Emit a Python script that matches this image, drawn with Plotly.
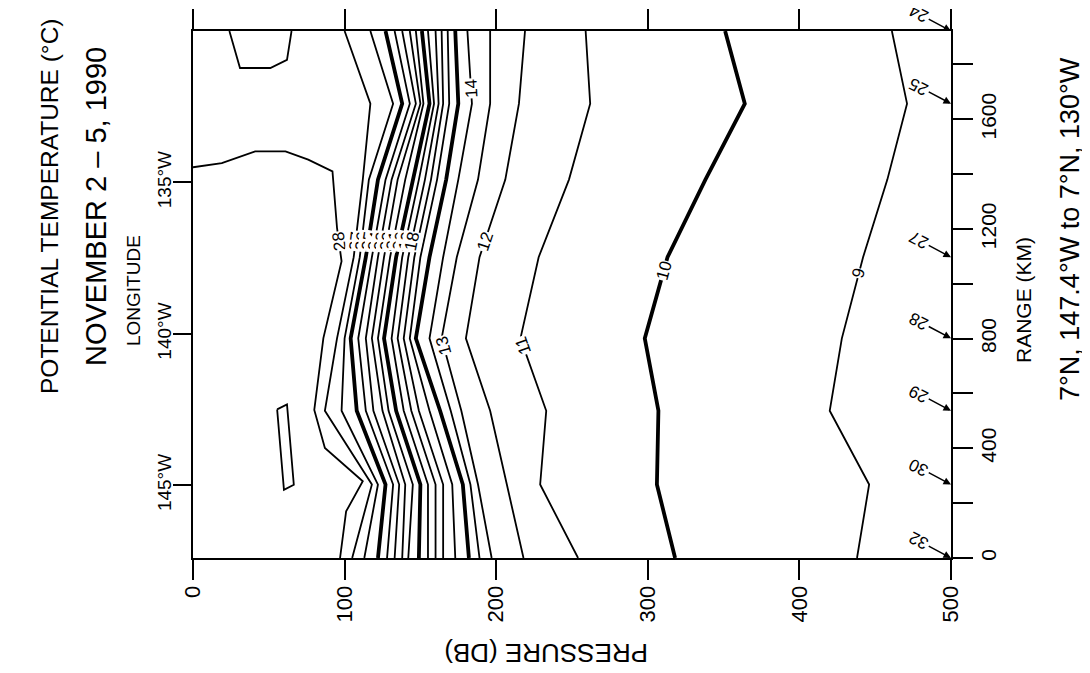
import math
import plotly.graph_objects as go

# ---------------- data ----------------
# range (km) of the columns at which isotherm pressures were read
STATION_KM = [0, 268, 537, 801, 1097, 1380, 1657, 1922]

# pressure (dB) of each isotherm at those columns
P27 = [105, 118, 87, 95, 106, 112, 117, 100]
P26 = [113, 122, 98, 100, 110, 116, 132, 117]
P25 = [122, 127, 108, 104, 114, 122, 138, 127]
P24 = [128, 132, 114, 109, 118, 127, 143, 133]
P23 = [133, 136, 119, 114, 122, 131, 147, 138]
P22 = [138, 140, 125, 118, 126, 135, 150, 143]
P21 = [142, 145, 129, 122, 130, 140, 152, 147]
P20 = [149, 150, 134, 126, 134, 145, 156, 151]
P19 = [155, 155, 139, 131, 138, 149, 159, 155]
P18 = [160, 160, 144, 135, 142, 153, 162, 160]
P17 = [165, 165, 149, 139, 146, 157, 165, 164]
P16 = [173, 171, 156, 143, 150, 161, 169, 168]
P15 = [182, 178, 163, 147, 156, 167, 175, 173]
P14 = [189, 183, 170, 156, 165, 175, 184, 181]
P13 = [197, 188, 177, 164, 174, 188, 196, 196]
P12 = [218, 207, 196, 180, 189, 206, 215, 219]
P11 = [254, 229, 233, 216, 228, 248, 262, 259]
P10 = [318, 306, 307, 298, 313, 338, 364, 351]
P9 = [438, 446, 420, 428, 442, 458, 471, 461]

# the 28 degC isotherm (base of the mixed layer, reaching the surface near 1425 km)
ISO28_P = [97, 101, 112, 87, 80, 86, 98, 95, 92, 76, 61, 41, 19, 0]
ISO28_KM = [0, 170, 280, 401, 540, 802, 1082, 1204, 1410, 1453, 1483, 1483, 1440, 1425]
# warm (>28) patch at the eastern end
PATCH28_P = [24, 31, 51, 62, 65]
PATCH28_KM = [1922, 1787, 1787, 1817, 1922]
# small closed contour inside the mixed layer
SLIVER_P = [55.5, 62, 66.5, 60, 55.5]
SLIVER_KM = [542, 560, 267, 249, 542]

# CTD stations marked on the 500 dB edge
CTD_NAMES = ["32", "30", "29", "28", "27", "25", "24"]
CTD_KM = [0, 268, 537, 801, 1097, 1657, 1922]

LON_START, LON_END = 147.4, 130.0
RANGE_MAX_KM = 1922
LON_TICKS = [145, 140, 135]
PRESSURE_TICKS = [0, 100, 200, 300, 400, 500]
RANGE_TICKS = [0, 200, 400, 600, 800, 1000, 1200, 1400, 1600, 1800]
RANGE_LABELS = [0, 400, 800, 1200, 1600]

ISOTHERMS = [(27, P27), (26, P26), (25, P25), (24, P24), (23, P23), (22, P22),
             (21, P21), (20, P20), (19, P19), (18, P18), (17, P17), (16, P16),
             (15, P15), (14, P14), (13, P13), (12, P12), (11, P11), (10, P10), (9, P9)]

# where along the range each contour is labelled (km)
LABEL_AT = {28: 1156, 27: 1156, 26: 1156, 25: 1156, 24: 1156, 23: 1156, 22: 1156,
            21: 1156, 20: 1156, 19: 1156, 18: 1156, 14: 1714, 13: 775, 12: 1156,
            11: 775, 10: 1050, 9: 1040}

# ---------------- layout constants ----------------
W, H = 1090, 673
ML, MR, MT, MB = 185, 147, 23, 123
PW, PH = W - ML - MR, H - MT - MB
SX = PW / 500.0            # px per dB
SY = PH / RANGE_MAX_KM     # px per km
FONT = "Liberation Sans"
BLACK = "black"


def paper(px, py):
    return (px - ML) / PW, (H - MB - py) / PH


def lon_km(lon):
    return (LON_START - lon) * RANGE_MAX_KM / (LON_START - LON_END)


def label_pos(ps, kms, k):
    for i in range(len(kms) - 1):
        a, b = kms[i], kms[i + 1]
        if min(a, b) <= k <= max(a, b) and a != b:
            t = (k - a) / (b - a)
            p = ps[i] + t * (ps[i + 1] - ps[i])
            dx = (ps[i + 1] - ps[i]) * SX
            dy = -(b - a) * SY
            if dy > 0:
                dx, dy = -dx, -dy
            ang = math.degrees(math.atan2(dy, dx))
            return p, ang
    return None, None


fig = go.Figure()

all_lines = [(28, ISO28_P, ISO28_KM)] + [(lev, ps, STATION_KM) for lev, ps in ISOTHERMS]
for lev, ps, kms in all_lines:
    thick = lev % 5 == 0
    fig.add_trace(go.Scatter(x=ps, y=kms, mode="lines", hoverinfo="skip",
                             line=dict(color=BLACK, width=3.8 if thick else 1.8),
                             showlegend=False))
for ps, kms in [(PATCH28_P, PATCH28_KM), (SLIVER_P, SLIVER_KM)]:
    fig.add_trace(go.Scatter(x=ps, y=kms, mode="lines", hoverinfo="skip",
                             line=dict(color=BLACK, width=1.8), showlegend=False))

# station markers on the right-hand range axis
fig.add_trace(go.Scatter(x=[500] * len(CTD_KM), y=CTD_KM, mode="markers", yaxis="y2",
                         marker=dict(size=1, opacity=0), hoverinfo="skip", showlegend=False))

annotations = []
for lev, ps, kms in all_lines:
    if lev not in LABEL_AT:
        continue
    p, ang = label_pos(ps, kms, LABEL_AT[lev])
    if p is None:
        continue
    annotations.append(dict(x=p, y=LABEL_AT[lev], xref="x", yref="y", text=str(lev),
                            showarrow=False, textangle=ang, bgcolor="white", borderpad=0,
                            font=dict(family=FONT, size=17, color=BLACK)))

for name, km in zip(CTD_NAMES, CTD_KM):
    annotations.append(dict(x=500, y=km, xref="x", yref="y", text=name, showarrow=True,
                            arrowhead=2, arrowsize=1, arrowwidth=1.5, arrowcolor=BLACK,
                            ax=-32, ay=-17, textangle=-153, standoff=0,
                            font=dict(family=FONT, size=17, color=BLACK)))

texts = [
    ("POTENTIAL TEMPERATURE (°C)", 42, 198, 24.5, -90),
    ("NOVEMBER 2 – 5, 1990", 88, 199, 29, -90),
    ("LONGITUDE", 125, 283, 19, -90),
    ("PRESSURE (DB)", 538, 645, 26, 180),
    ("RANGE (KM)", 1015, 292, 21, -90),
    ("7°N, 147.4°W to 7°N, 130°W", 1062, 221, 27, -90),
]
for t, px, py, fs, ang in texts:
    x, y = paper(px, py)
    annotations.append(dict(x=x, y=y, xref="paper", yref="paper", text=t, showarrow=False,
                            textangle=ang, xanchor="center", yanchor="middle",
                            font=dict(family=FONT, size=fs, color=BLACK)))

axis_common = dict(showgrid=False, zeroline=False, showline=True, linecolor=BLACK,
                   linewidth=2, ticks="outside", tickcolor=BLACK, tickwidth=2,
                   automargin=False)

fig.update_layout(
    template="none",
    width=W, height=H,
    margin=dict(l=ML, r=MR, t=MT, b=MB, pad=0),
    paper_bgcolor="white", plot_bgcolor="white",
    font=dict(family=FONT, color=BLACK),
    showlegend=False,
    xaxis=dict(range=[0, 500], tickvals=PRESSURE_TICKS, ticktext=[str(v) for v in PRESSURE_TICKS],
               ticklen=20, tickangle=-90, mirror="ticks", ticklabelstandoff=-3,
               tickfont=dict(family=FONT, size=22, color=BLACK), **axis_common),
    yaxis=dict(range=[0, RANGE_MAX_KM], tickvals=[lon_km(v) for v in LON_TICKS],
               ticktext=[f"{v}°W" for v in LON_TICKS], ticklen=18, tickangle=-90,
               ticklabelstandoff=-6,
               tickfont=dict(family=FONT, size=19, color=BLACK), **axis_common),
    yaxis2=dict(range=[0, RANGE_MAX_KM], overlaying="y", side="right", tickvals=RANGE_TICKS,
                ticktext=[str(v) if v in RANGE_LABELS else "" for v in RANGE_TICKS],
                ticklen=20, tickangle=-90, ticklabelstandoff=-2,
                tickfont=dict(family=FONT, size=21, color=BLACK), **axis_common),
    annotations=annotations,
)

fig.write_html("out.html")
